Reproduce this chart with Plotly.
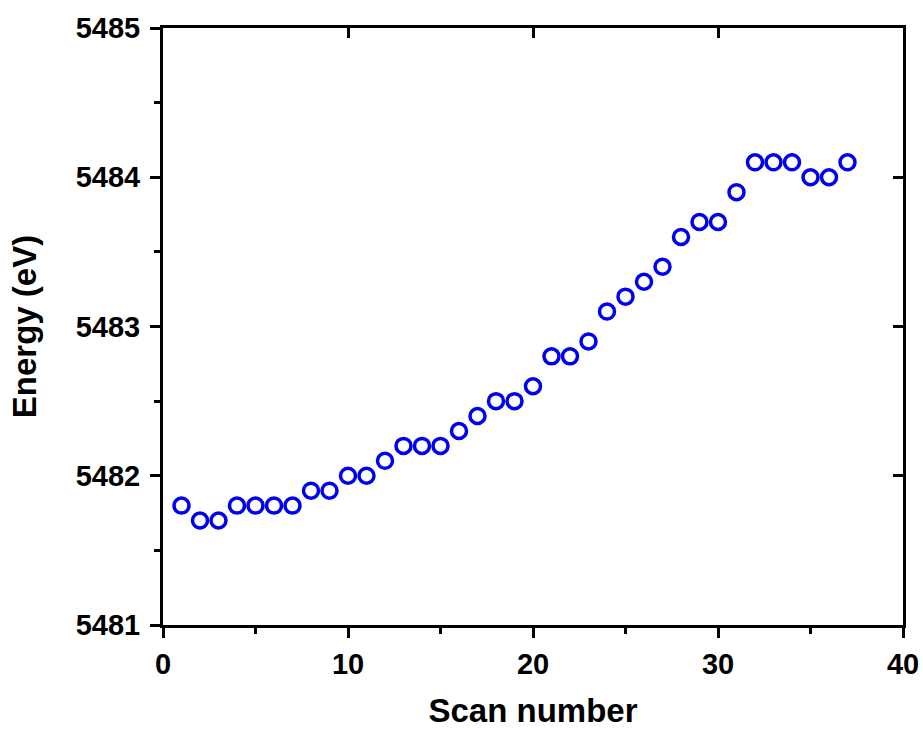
import plotly.graph_objects as go

scan = list(range(1, 38))
energy = [5481.8, 5481.7, 5481.7, 5481.8, 5481.8, 5481.8, 5481.8, 5481.9, 5481.9, 5482.0,
          5482.0, 5482.1, 5482.2, 5482.2, 5482.2, 5482.3, 5482.4, 5482.5, 5482.5, 5482.6,
          5482.8, 5482.8, 5482.9, 5483.1, 5483.2, 5483.3, 5483.4, 5483.6, 5483.7, 5483.7,
          5483.9, 5484.1, 5484.1, 5484.1, 5484.0, 5484.0, 5484.1]

x_ticks = [0, 10, 20, 30, 40]
y_ticks = [5481, 5482, 5483, 5484, 5485]

FONT = "Liberation Sans"
tickfont = dict(family=FONT, size=29, color="black", weight="bold")
titlefont = dict(family=FONT, size=33, color="black", weight="bold")

fig = go.Figure()
fig.add_trace(go.Scatter(
    x=scan, y=energy, mode="markers",
    marker=dict(symbol="circle-open", size=15, color="#0000f0",
                line=dict(width=3.5, color="#0000f0")),
    showlegend=False))
# invisible trace for the mirrored (top/right) tick axes
fig.add_trace(go.Scatter(x=[scan[0]], y=[energy[0]], xaxis="x2", yaxis="y2",
                         mode="markers", marker=dict(opacity=0), showlegend=False,
                         hoverinfo="skip"))

fig.update_layout(
    width=923, height=729,
    margin=dict(l=163, r=20, t=28, b=104),
    plot_bgcolor="white", paper_bgcolor="white",
    xaxis=dict(range=[0, 40], tickvals=x_ticks, ticks="outside", ticklen=10, tickwidth=3,
               tickcolor="black", showline=True, linewidth=3, linecolor="black",
               mirror=True, showgrid=False, zeroline=False, tickfont=tickfont,
               ticklabelstandoff=1, automargin=False,
               title=dict(text="Scan number", font=titlefont, standoff=21),
               minor=dict(tickvals=[5, 15, 25, 35], ticks="outside", ticklen=6,
                          tickwidth=3, tickcolor="black", showgrid=False)),
    yaxis=dict(range=[5481, 5485], tickvals=y_ticks, ticks="outside", ticklen=10, tickwidth=3,
               tickcolor="black", showline=True, linewidth=3, linecolor="black",
               mirror=True, showgrid=False, zeroline=False, tickfont=tickfont,
               ticklabelstandoff=4, automargin=False,
               title=dict(text="Energy (eV)", font=titlefont, standoff=30),
               minor=dict(tickvals=[5481.5, 5482.5, 5483.5, 5484.5], ticks="outside",
                          ticklen=6, tickwidth=3, tickcolor="black", showgrid=False)),
    xaxis2=dict(range=[0, 40], overlaying="x", side="top", tickvals=x_ticks,
                ticks="inside", ticklen=10, tickwidth=3, tickcolor="black", automargin=False,
                showticklabels=False, showgrid=False, zeroline=False, showline=False),
    yaxis2=dict(range=[5481, 5485], overlaying="y", side="right", tickvals=y_ticks,
                ticks="inside", ticklen=10, tickwidth=3, tickcolor="black", automargin=False,
                showticklabels=False, showgrid=False, zeroline=False, showline=False),
)

fig.write_html("out.html")
